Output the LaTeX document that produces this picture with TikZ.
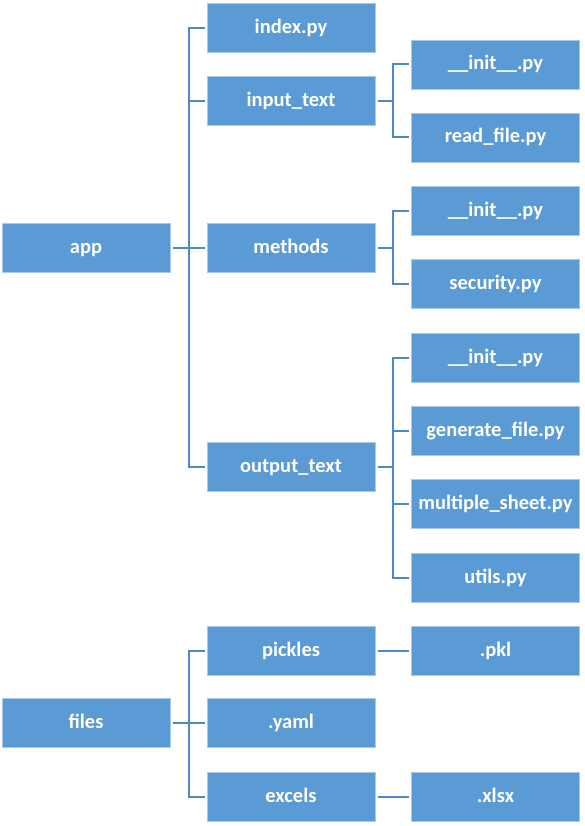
\documentclass[tikz,border=0pt]{standalone}
\usepackage{fontspec}
\setmainfont{Carlito}
\usepackage{tikz}
\definecolor{caixa}{HTML}{5B9BD5}
\definecolor{borda}{HTML}{A9C9EA}
\definecolor{linha}{HTML}{4F88C6}
\tikzset{
  box/.style={rectangle, fill=caixa, draw=borda, line width=0.8pt,
    minimum width=168pt, minimum height=49pt, inner sep=0pt,
    text height=15pt, text depth=4pt,
    text=white, font=\fontsize{20.5}{24}\selectfont\bfseries},
  conn/.style={linha, line width=2pt}
}

\begin{document}
\begin{tikzpicture}[x=1pt, y=-1pt]
  \useasboundingbox (0,0) rectangle (585,826);
  % colunas
  \def\xa{86}\def\xb{291}\def\xc{495.5}
  % caixas: app
  \node[box] (app) at (\xa,247.5) {app};
  \node[box] (index) at (\xb,28) {index.py};
  \node[box] (inputtext) at (\xb,101) {input\_text};
  \node[box] (methods) at (\xb,247.5) {methods};
  \node[box] (outputtext) at (\xb,467) {output\_text};
  \node[box] (initin) at (\xc,64.5) {\_\_init\_\_.py};
  \node[box] (readfile) at (\xc,137.5) {read\_file.py};
  \node[box] (initme) at (\xc,211) {\_\_init\_\_.py};
  \node[box] (security) at (\xc,284) {security.py};
  \node[box] (initout) at (\xc,357.5) {\_\_init\_\_.py};
  \node[box] (genfile) at (\xc,431) {generate\_file.py};
  \node[box] (multisheet) at (\xc,504) {multiple\_sheet.py};
  \node[box] (utils) at (\xc,577.5) {utils.py};
  % caixas: files
  \node[box] (files) at (\xa,723) {files};
  \node[box] (pickles) at (\xb,650.5) {pickles};
  \node[box] (yaml) at (\xb,723) {.yaml};
  \node[box] (excels) at (\xb,796.5) {excels};
  \node[box] (pkl) at (\xc,650.5) {.pkl};
  \node[box] (xlsx) at (\xc,796.5) {.xlsx};
  % ligações
  \foreach \c in {index,inputtext,methods,outputtext}
    \draw[conn] ([xshift=3pt]app.east) -- ++(16pt,0pt) |- ([xshift=-2pt]\c.west);
  \foreach \c in {initin,readfile}
    \draw[conn] ([xshift=3pt]inputtext.east) -- ++(15pt,0pt) |- ([xshift=-2pt]\c.west);
  \foreach \c in {initme,security}
    \draw[conn] ([xshift=3pt]methods.east) -- ++(15pt,0pt) |- ([xshift=-2pt]\c.west);
  \foreach \c in {initout,genfile,multisheet,utils}
    \draw[conn] ([xshift=3pt]outputtext.east) -- ++(15pt,0pt) |- ([xshift=-2pt]\c.west);
  \foreach \c in {pickles,yaml,excels}
    \draw[conn] ([xshift=3pt]files.east) -- ++(16pt,0pt) |- ([xshift=-2pt]\c.west);
  \draw[conn] ([xshift=3pt]pickles.east) -- ([xshift=-2pt]pkl.west);
  \draw[conn] ([xshift=3pt]excels.east) -- ([xshift=-2pt]xlsx.west);
\end{tikzpicture}
\end{document}
